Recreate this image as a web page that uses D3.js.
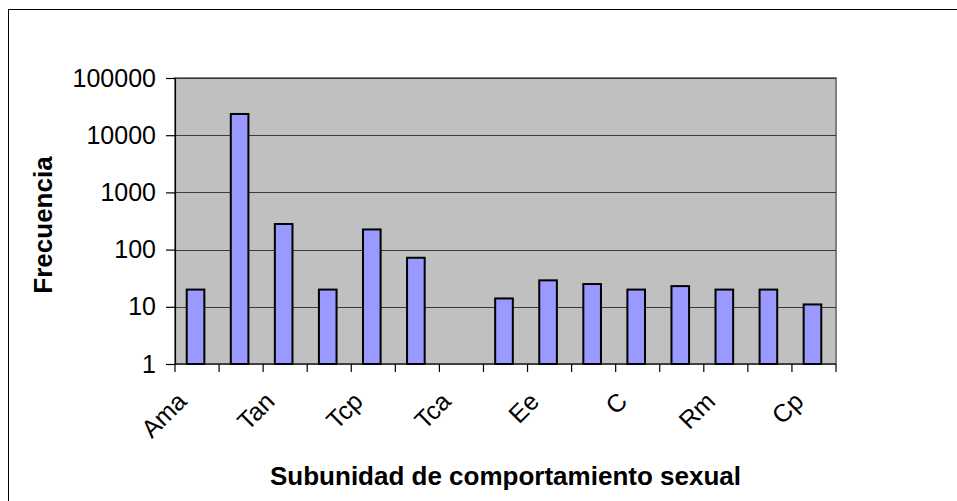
<!DOCTYPE html>
<html>
<head>
<meta charset="utf-8">
<script src="https://cdn.jsdelivr.net/npm/d3@7"></script>
<style>
  body { margin: 0; background: #fff; }
  svg { display: block; font-family: Arial, "Liberation Sans", sans-serif; }
</style>
</head>
<body>
<div id="chart"></div>
<script>
// data (only every second category carries a label)
var labels = ["Ama", "", "Tan", "", "Tcp", "", "Tca", "", "Ee", "", "C", "", "Rm", "", "Cp"];
var frecuencia = [20, 23500, 280, 20, 225, 72, 0, 14, 29, 25, 20, 23, 20, 20, 11];
var yTicks = [1, 10, 100, 1000, 10000, 100000];

var svgWidth = 957;
var svgHeight = 501;

var margin = { top: 78, right: 121, bottom: 137, left: 175 };
var width = svgWidth - margin.left - margin.right;
var height = svgHeight - margin.top - margin.bottom;

var svg = d3.select("#chart")
  .append("svg")
  .attr("width", svgWidth)
  .attr("height", svgHeight);

// outer chart border
svg.append("rect")
  .attr("x", 8.5)
  .attr("y", 9.5)
  .attr("width", 960)
  .attr("height", 520)
  .attr("fill", "none")
  .attr("stroke", "#000")
  .attr("stroke-width", 1);

var chartGroup = svg.append("g")
  .attr("transform", "translate(" + margin.left + ", " + margin.top + ")");

var idx = d3.range(labels.length);

var x = d3.scaleBand()
  .domain(idx)
  .range([0, width])
  .paddingInner(0.6)
  .paddingOuter(0.3);

var y = d3.scaleLog()
  .domain([1, 100000])
  .range([height, 0]);

// plot area
chartGroup.append("rect")
  .attr("width", width)
  .attr("height", height)
  .attr("fill", "#c0c0c0")
  .attr("stroke", "#808080")
  .attr("stroke-width", 2);

// gridlines
chartGroup.selectAll(".grid")
  .data(yTicks.slice(1))
  .enter()
  .append("line")
  .attr("class", "grid")
  .attr("x1", 0)
  .attr("x2", width)
  .attr("y1", function(d) { return Math.round(y(d)) + 0.5; })
  .attr("y2", function(d) { return Math.round(y(d)) + 0.5; })
  .attr("stroke", "#3a3a3a")
  .attr("stroke-width", 1);

// bars
chartGroup.selectAll(".bar")
  .data(frecuencia.map(function(v, i) { return { i: i, v: v }; }).filter(function(d) { return d.v > 0; }))
  .enter()
  .append("rect")
  .attr("class", "bar")
  .attr("x", function(d) { return x(d.i) - 1.5; })
  .attr("width", x.bandwidth())
  .attr("y", function(d) { return y(d.v); })
  .attr("height", function(d) { return height - y(d.v); })
  .attr("fill", "#9999ff")
  .attr("stroke", "#000")
  .attr("stroke-width", 2);

// y axis
var yAxis = d3.axisLeft(y)
  .tickValues(yTicks)
  .tickFormat(d3.format("d"))
  .tickSizeInner(9)
  .tickSizeOuter(0)
  .tickPadding(10);

var yG = chartGroup.append("g").call(yAxis);
yG.select(".domain").attr("stroke", "#000").attr("stroke-width", 1.2);
yG.selectAll(".tick line").attr("stroke", "#000").attr("stroke-width", 1.2);
yG.selectAll(".tick text")
  .attr("font-size", "25px")
  .attr("font-family", "Arial, 'Liberation Sans', sans-serif")
  .attr("fill", "#000");

// x axis: ticks on category boundaries
var step = x.step();
var xG = chartGroup.append("g")
  .attr("transform", "translate(0," + height + ")");

xG.append("line")
  .attr("x1", 0)
  .attr("x2", width)
  .attr("stroke", "#000")
  .attr("stroke-width", 1.2);

xG.selectAll(".xtick")
  .data(d3.range(labels.length + 1))
  .enter()
  .append("line")
  .attr("class", "xtick")
  .attr("x1", function(d) { return d * step; })
  .attr("x2", function(d) { return d * step; })
  .attr("y1", 0)
  .attr("y2", 8)
  .attr("stroke", "#000")
  .attr("stroke-width", 1.2);

xG.selectAll(".xlabel")
  .data(idx.filter(function(i) { return labels[i] !== ""; }))
  .enter()
  .append("text")
  .attr("class", "xlabel")
  .attr("transform", function(i) {
    return "translate(" + (x(i) + x.bandwidth() / 2 - 9) + ", 39) rotate(-45)";
  })
  .attr("text-anchor", "end")
  .attr("font-size", "25px")
  .attr("fill", "#000")
  .text(function(i) { return labels[i]; });

// axis titles
svg.append("text")
  .attr("x", margin.left + width / 2)
  .attr("y", 485)
  .attr("text-anchor", "middle")
  .attr("font-size", "26px")
  .attr("font-weight", "bold")
  .text("Subunidad de comportamiento sexual");

svg.append("text")
  .attr("transform", "translate(52, " + (margin.top + height / 2 + 4) + ") rotate(-90)")
  .attr("text-anchor", "middle")
  .attr("font-size", "26px")
  .attr("font-weight", "bold")
  .text("Frecuencia");
</script>
</body>
</html>
